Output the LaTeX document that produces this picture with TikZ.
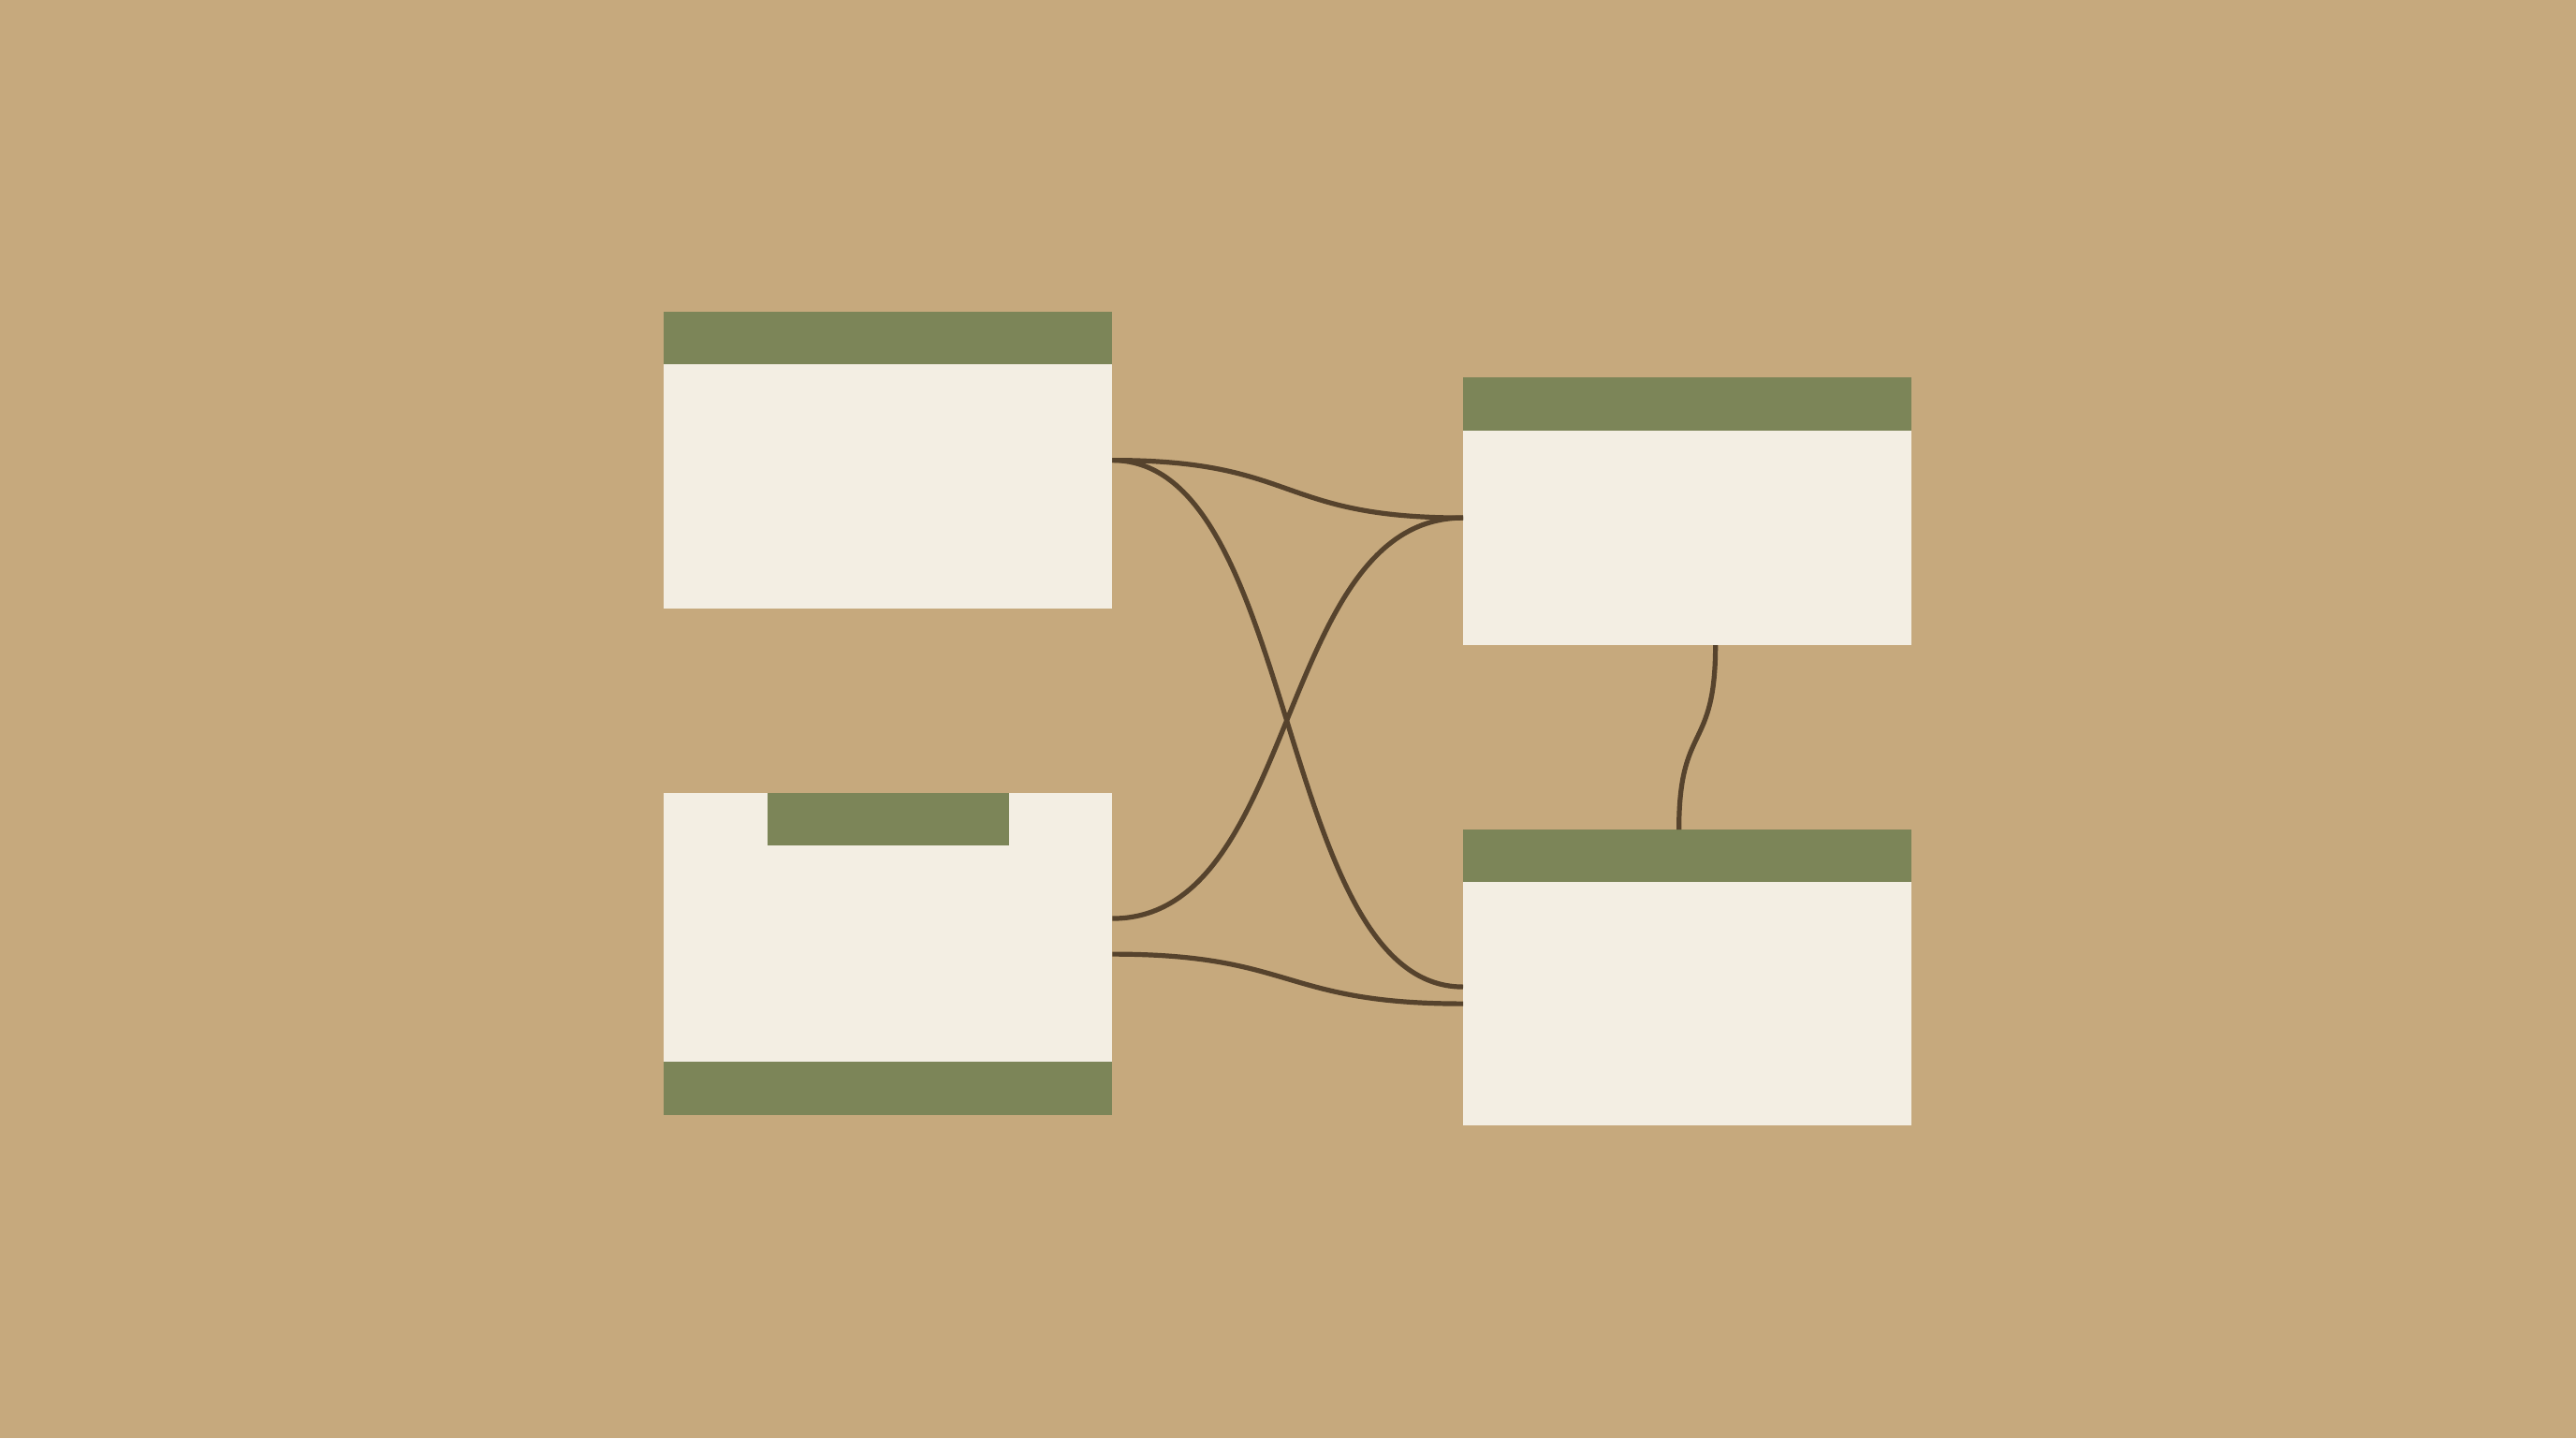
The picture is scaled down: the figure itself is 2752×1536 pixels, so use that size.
\documentclass[tikz,border=0pt]{standalone}
\usetikzlibrary{calc}
\definecolor{bgtan}{HTML}{C6A97D}
\definecolor{cardfill}{HTML}{F3EEE3}
\definecolor{olive}{HTML}{7C8558}
\definecolor{wire}{HTML}{56432D}
\begin{document}
\begin{tikzpicture}[x=0.01cm,y=-0.01cm,
  cardbox/.style={fill=cardfill, inner sep=0pt, outer sep=0pt, anchor=north west, minimum width=4.79cm},
  band/.style={fill=olive, inner sep=0pt, outer sep=0pt, anchor=north west},
  wirecurve/.style={draw=wire, line width=0.052cm, line cap=butt}]
\fill[bgtan] (0,0) rectangle (2752,1536);
\useasboundingbox (0,0) rectangle (2752,1536);
% cards
\node[cardbox, minimum height=3.17cm] (A) at (709,333) {};
\node[band, minimum width=4.79cm, minimum height=0.56cm] (Ah) at (709,333) {};
\node[cardbox, minimum height=3.44cm] (B) at (709,847) {};
\node[band, minimum width=2.58cm, minimum height=0.56cm] (Bt) at (820,847) {};
\node[band, minimum width=4.79cm, minimum height=0.57cm] (Bb) at (709,1134) {};
\node[cardbox, minimum height=2.86cm] (C) at (1563,403) {};
\node[band, minimum width=4.79cm, minimum height=0.57cm] (Ch) at (1563,403) {};
\node[cardbox, minimum height=3.16cm] (D) at (1563,886) {};
\node[band, minimum width=4.79cm, minimum height=0.56cm] (Dh) at (1563,886) {};
% connectors
\draw[wirecurve] (A.east) .. controls +(200,0) and +(-200,0) .. ([yshift=-0.07cm]C.west);
\draw[wirecurve] (A.east) .. controls +(200,0) and +(-200,0) .. ([yshift=-0.1cm]D.west);
\draw[wirecurve] ([yshift=0.38cm]B.east) .. controls +(200,0) and +(-200,0) .. ([yshift=-0.07cm]C.west);
\draw[wirecurve] (B.east) .. controls +(195,0) and +(-195,0) .. ([yshift=-0.28cm]D.west);
\draw[wirecurve] ([xshift=0.3cm]C.south) .. controls +(0,115) and +(0,-115) .. ([xshift=-0.09cm]D.north);
\end{tikzpicture}
\end{document}
